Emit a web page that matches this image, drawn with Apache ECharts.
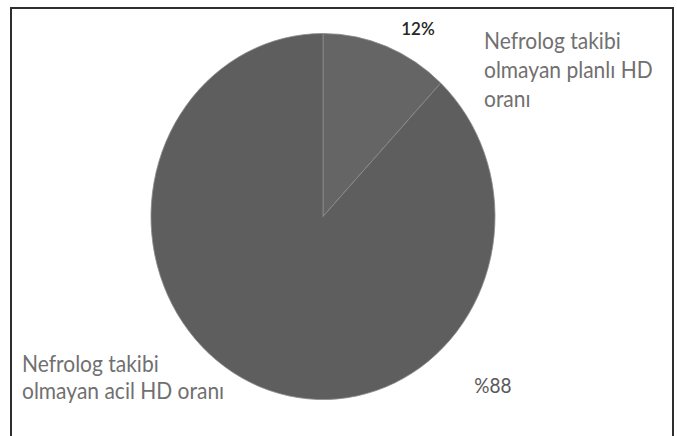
<!DOCTYPE html>
<html>
<head>
<meta charset="utf-8">
<script src="https://cdn.jsdelivr.net/npm/echarts@6/dist/echarts.min.js"></script>
<style>
  html, body { margin: 0; padding: 0; background: #fff; overflow: hidden; width: 677px; height: 436px; position: relative; }
  #chart { position: absolute; left: 0; top: 0; width: 677px; height: 410px; transform: scaleY(1.064); transform-origin: 0 0; }
  #frame { position: absolute; left: 10px; top: 7px; width: 660px; height: 440px; border: 2px solid #2e2e2e; pointer-events: none; }
</style>
</head>
<body>
<div id="chart"></div>
<div id="frame"></div>
<script>
// Share of unplanned vs planned HD starts among patients without nephrology follow-up
const categories = [
  'Nefrolog takibi olmayan planlı HD oranı',
  'Nefrolog takibi olmayan acil HD oranı'
];
const values = [12, 88];
const percentLabels = ['12%', '%88'];
const nameLines = [
  ['Nefrolog takibi', 'olmayan planlı HD', 'oranı'],
  ['Nefrolog takibi', 'olmayan acil HD oranı']
];

const sliceColors = ['#656565', '#5e5e5e'];
const percentStyle = [
  { x: 418, y: 27, fontSize: 17, fontWeight: 600, color: '#262626' },
  { x: 493, y: 362.5, fontSize: 19, fontWeight: 'normal', color: '#5a5a5a' }
];
const nameBlocks = [
  { left: 484, top: 25, lineHeight: 27.3 },
  { left: 22, top: 329, lineHeight: 25.6 }
];

const chart = echarts.init(document.getElementById('chart'), null, { renderer: 'svg' });

const graphics = nameLines.map((lines, i) => ({
  type: 'text', z: 10,
  left: nameBlocks[i].left, top: nameBlocks[i].top,
  style: {
    text: lines.join('\n'),
    font: '21px Lato',
    lineHeight: nameBlocks[i].lineHeight,
    fill: '#707070'
  }
}));

chart.setOption({
  animation: false,
  backgroundColor: '#fff',
  graphic: graphics,
  series: [{
    type: 'pie',
    center: [323, 203.5],
    radius: 172,
    startAngle: 90,
    clockwise: true,
    avoidLabelOverlap: false,
    itemStyle: { borderColor: '#8c8c8c', borderWidth: 0.8 },
    label: {
      show: true,
      position: 'outside',
      fontFamily: 'Lato',
      formatter: p => percentLabels[p.dataIndex]
    },
    labelLine: { show: false },
    labelLayout: p => {
      const s = percentStyle[p.dataIndex];
      return { x: s.x, y: s.y, align: 'center', verticalAlign: 'middle', moveOverlap: false };
    },
    data: categories.map((name, i) => ({
      name,
      value: values[i],
      itemStyle: { color: sliceColors[i] },
      label: {
        fontSize: percentStyle[i].fontSize,
        fontWeight: percentStyle[i].fontWeight,
        color: percentStyle[i].color
      }
    }))
  }]
});
</script>
</body>
</html>
